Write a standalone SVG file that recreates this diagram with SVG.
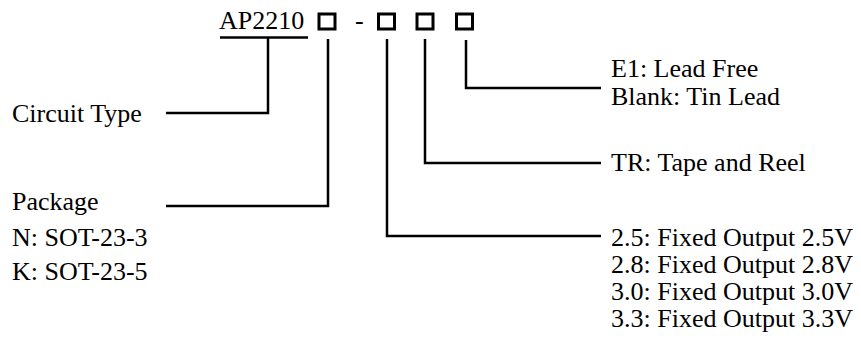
<svg xmlns="http://www.w3.org/2000/svg" width="861" height="340" viewBox="0 0 861 340">
<style>
  text { font-family: "Liberation Serif", "Times New Roman", serif; font-size: 26px; fill: #000; }
  .box { fill: none; stroke: #000; stroke-width: 3; }
  .ln { fill: none; stroke: #000; stroke-width: 2.5; }
</style>
<rect width="861" height="340" fill="#fff"/>
<g id="part-number">
  <text x="219" y="29">AP2210</text>
  <rect class="box" x="319" y="14" width="16" height="15"/>
  <text x="355" y="29">-</text>
  <rect class="box" x="378.5" y="14" width="16" height="15"/>
  <rect class="box" x="417" y="14" width="16" height="15"/>
  <rect class="box" x="456.5" y="14" width="16" height="15"/>
</g>
<g id="connectors">
  <line class="ln" x1="220" y1="37.5" x2="308" y2="37.5"/>
  <polyline class="ln" points="268,37.5 268,113 166,113"/>
  <polyline class="ln" points="328,39 328,206 166,206"/>
  <polyline class="ln" points="387,39 387,236 601,236"/>
  <polyline class="ln" points="425,39 425,163 601,163"/>
  <polyline class="ln" points="466,40 466,88 601,88"/>
</g>
<g id="circuit-type">
  <text x="12" y="122">Circuit Type</text>
</g>
<g id="package">
  <text x="12" y="210">Package</text>
  <text x="12" y="246">N: SOT-23-3</text>
  <text x="12" y="280">K: SOT-23-5</text>
</g>
<g id="lead">
  <text x="611" y="77">E1: Lead Free</text>
  <text x="611" y="105">Blank: Tin Lead</text>
</g>
<g id="packing">
  <text x="611" y="171">TR: Tape and Reel</text>
</g>
<g id="output">
  <text x="611" y="246">2.5: Fixed Output 2.5V</text>
  <text x="611" y="273">2.8: Fixed Output 2.8V</text>
  <text x="611" y="300">3.0: Fixed Output 3.0V</text>
  <text x="611" y="327">3.3: Fixed Output 3.3V</text>
</g>
</svg>
